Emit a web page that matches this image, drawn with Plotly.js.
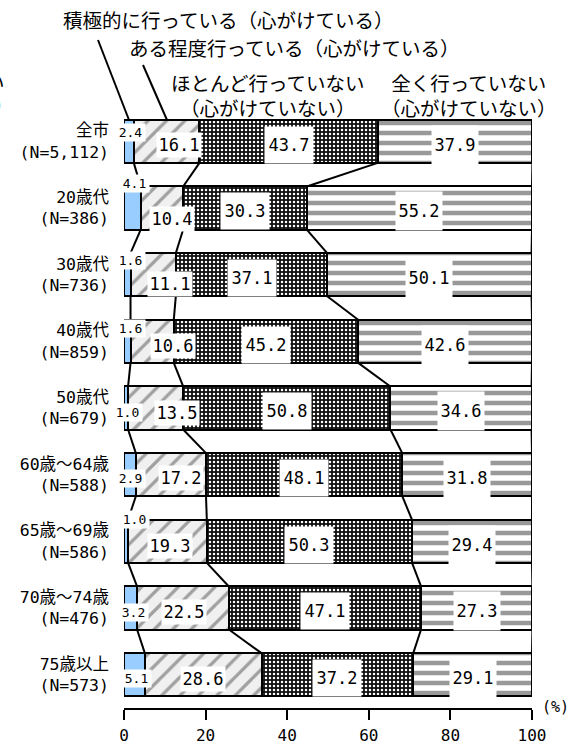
<!DOCTYPE html>
<html>
<head>
<meta charset="utf-8">
<script src="https://cdn.plot.ly/plotly-3.0.1.min.js"></script>
<style>html,body{margin:0;padding:0;background:#fff;}</style>
</head>
<body>
<div id="chart" style="width:575px;height:749px;"></div>
<script>
// ---- data ----
const categories = ['全市','20歳代','30歳代','40歳代','50歳代','60歳～64歳','65歳～69歳','70歳～74歳','75歳以上'];
const sampleSizes = ['N=5,112','N=386','N=736','N=859','N=679','N=588','N=586','N=476','N=573'];
const seriesNames = ['積極的に行っている（心がけている）','ある程度行っている（心がけている）','ほとんど行っていない（心がけていない）','全く行っていない（心がけていない）'];
const active   = [2.4, 4.1, 1.6, 1.6, 1.0, 2.9, 1.0, 3.2, 5.1];
const somewhat = [16.1,10.4,11.1,10.6,13.5,17.2,19.3,22.5,28.6];
const hardly   = [43.7,30.3,37.1,45.2,50.8,48.1,50.3,47.1,37.2];
const never    = [37.9,55.2,50.1,42.6,34.6,31.8,29.4,27.3,29.1];
const xTicks = [0,20,40,60,80,100];

// ---- label placement (layout only) ----
const smallLabelX  = [1.6, 2.6, 1.6, 1.6, 0.9, 1.6, 2.6, 2.4, 3.0];
const smallLabelDy = [-0.13,-0.37,-0.22,-0.2,0.06,0.05,-0.33,0.06,0.06];
const seg2LabelX   = [13.4,11.7,11.2,11.9,12.9,13.9,11.2,14.6,19.3];
const seg2LabelDy  = [0.06,0.17,0.14,0.07,0.07,0.05,0.07,0.06,0.06];

const series = [active, somewhat, hardly, never];
const rows = categories.map((c,i)=>i);
const bargap = 0.354;
const hw = (1-bargap)/2;

const patterns = [
  null,
  {shape:'/', fgcolor:'#a0a0a0', bgcolor:'#f0f0f0', size:13, solidity:0.25, fillmode:'replace'},
  {shape:'.', fgcolor:'#ffffff', bgcolor:'#111111', size:4, solidity:0.3, fillmode:'replace'},
  {shape:'-', fgcolor:'#999999', bgcolor:'#ffffff', size:10, solidity:0.45, fillmode:'replace'}
];

const traces = series.map((vals,k)=>{
  const m = {color: k===0 ? '#99ccff' : '#ffffff', line:{color:'#000', width:2}};
  if (patterns[k]) m.pattern = patterns[k];
  return {type:'bar', orientation:'h', x:vals, y:rows, name:seriesNames[k],
    marker:m, hoverinfo:'skip', showlegend:false, textposition:'none'};
});

// cumulative boundaries
const cum = rows.map(i=>{let s=0; return series.map(v=>{s+=v[i]; return s;});});

// connector lines between bars
for (let k=0;k<4;k++){
  const xs=[], ys=[];
  for (let i=0;i<rows.length-1;i++){
    xs.push(cum[i][k], cum[i+1][k], null);
    ys.push(i+hw, i+1-hw, null);
  }
  traces.push({type:'scatter', mode:'lines', x:xs, y:ys, line:{color:'#000', width:2},
    hoverinfo:'skip', showlegend:false, cliponaxis:false});
}

// ---- annotations ----
const numFont = {family:'DejaVu Sans Mono, monospace', size:17, color:'#000'};
const smallFont = {family:'DejaVu Sans Mono, monospace', size:13, color:'#000'};
const ann = [];
const A = o => Object.assign({showarrow:false, xanchor:'center', yanchor:'middle'}, o);
rows.forEach(i=>{
  ann.push(A({x:smallLabelX[i], y:i+smallLabelDy[i], text:active[i].toFixed(1),
    font:smallFont, bgcolor:'#fff', width:27, height:15, xref:'x', yref:'y'}));
  ann.push(A({x:seg2LabelX[i], y:i+seg2LabelDy[i], text:somewhat[i].toFixed(1),
    font:numFont, bgcolor:'#fff', width:42, height:22, xref:'x', yref:'y'}));
  ann.push(A({x:(cum[i][1]+cum[i][2])/2, y:i+0.05, text:hardly[i].toFixed(1),
    font:numFont, bgcolor:'#fff', width:46, height:34, xref:'x', yref:'y'}));
  ann.push(A({x:(cum[i][2]+cum[i][3])/2, y:i+0.05, text:never[i].toFixed(1),
    font:numFont, bgcolor:'#fff', width:44, height:36, xref:'x', yref:'y'}));
});

// pixel -> paper helpers (plot area: x 124..532, y 108..708)
const L=124, T=108, W=408, H=600;
const px = v => (v-L)/W;
const py = v => 1-(v-T)/H;
const hdrFont = {family:'Noto Sans CJK JP, sans-serif', size:19.5, color:'#000'};
ann.push(A({xref:'paper', yref:'paper', x:px(228), y:py(20), text:seriesNames[0], font:hdrFont}));
ann.push(A({xref:'paper', yref:'paper', x:px(294), y:py(47), text:seriesNames[1], font:hdrFont}));
ann.push(A({xref:'paper', yref:'paper', x:px(267), y:py(95), text:'ほとんど行っていない<br>（心がけていない）', font:hdrFont}));
ann.push(A({xref:'paper', yref:'paper', x:px(469), y:py(95), text:'全く行っていない<br>（心がけていない）', font:hdrFont}));
// partly cropped header at the left edge
ann.push(A({xref:'paper', yref:'paper', x:px(7), xanchor:'right', y:py(81), text:'わからない', font:hdrFont}));
ann.push(A({xref:'paper', yref:'paper', x:px(16), xanchor:'right', y:py(104), text:'（わからない）', font:hdrFont}));
ann.push(A({xref:'paper', yref:'paper', x:px(555), y:py(707), text:'(%)',
  font:{family:'DejaVu Sans Mono, monospace', size:15, color:'#000'}}));

const shapes = [
  {type:'line', xref:'paper', yref:'paper', x0:px(98), y0:py(40), x1:px(129), y1:py(120), line:{color:'#000', width:2}},
  {type:'line', xref:'paper', yref:'paper', x0:px(143), y0:py(65), x1:px(167), y1:py(120), line:{color:'#000', width:2}}
];

const layout = {
  width:575, height:749,
  margin:{l:L, r:575-L-W, t:T, b:749-T-H, pad:0},
  paper_bgcolor:'#fff', plot_bgcolor:'#fff',
  barmode:'stack', bargap:bargap,
  font:{family:'Noto Sans CJK JP, sans-serif', color:'#000'},
  xaxis:{range:[0,100], tickvals:xTicks, ticktext:xTicks.map(String), ticks:'outside', ticklen:10,
    tickwidth:2, tickcolor:'#000', showline:true, linewidth:2, linecolor:'#000', showgrid:false,
    zeroline:false, fixedrange:true, ticklabelstandoff:2,
    tickfont:{family:'DejaVu Sans Mono, monospace', size:16, color:'#000'}},
  yaxis:{range:[8.5,-0.5], tickvals:rows, ticktext:rows.map(i=>categories[i]+'<br>('+sampleSizes[i]+')'),
    ticks:'', showline:false, showgrid:false, zeroline:false, ticklabelstandoff:14, fixedrange:true,
    tickfont:{family:'DejaVu Sans Mono, Noto Sans CJK JP, monospace', size:16.5, color:'#000'}},
  annotations:ann, shapes:shapes, showlegend:false
};

Plotly.newPlot('chart', traces, layout, {staticPlot:true, displayModeBar:false});
</script>
</body>
</html>
